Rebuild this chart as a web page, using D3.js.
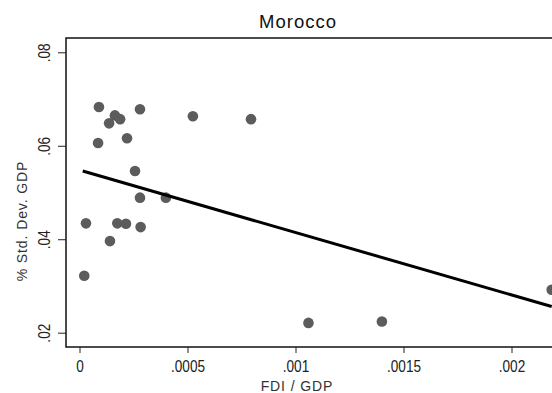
<!DOCTYPE html>
<html>
<head>
<meta charset="utf-8">
<script src="https://cdn.jsdelivr.net/npm/d3@7"></script>
<style>
  html, body { margin: 0; padding: 0; background: #fff; }
  svg { display: block; }
</style>
</head>
<body>
<div id="chart"></div>
<script>
// Data.
const fdiGdp = [0.000022, 0.00003, 0.00009, 0.000086, 0.000137, 0.000164, 0.000188, 0.00022,
    0.00028, 0.000257, 0.000141, 0.000175, 0.000215, 0.000283, 0.00028, 0.0004, 0.000525,
    0.000794, 0.00106, 0.0014, 0.002186];
const sdGdp = [0.0322, 0.0434, 0.0683, 0.0606, 0.0648, 0.0665, 0.0657, 0.0616,
    0.0678, 0.0546, 0.0396, 0.0434, 0.0433, 0.0426, 0.0489, 0.0489, 0.0663,
    0.0657, 0.0221, 0.0224, 0.0292];
// Fitted line end points.
const fitX = [0.000015, 0.002186];
const fitY = [0.0546, 0.0256];
const xTicks = [0, 0.0005, 0.001, 0.0015, 0.002];
const xTickLabels = ['0', '.0005', '.001', '.0015', '.002'];
const yTicks = [0.02, 0.04, 0.06, 0.08];
const yTickLabels = ['.02', '.04', '.06', '.08'];

const width = 552;
const height = 393;
const plot = {left: 66, top: 38, bottom: 347, right: 700};

const svg = d3.select('#chart')
    .append('svg')
        .attr('width', width)
        .attr('height', height);

const x = d3.scaleLinear()
    .domain([0, 0.002])
    .range([79.5, 511.5]);
const y = d3.scaleLinear()
    .domain([0.02, 0.08])
    .range([332.7, 52.3]);

const font = '"Liberation Sans", Arial, sans-serif';

// Plot region frame (right side runs off the picture).
svg.append('rect')
    .attr('x', plot.left)
    .attr('y', plot.top)
    .attr('width', plot.right - plot.left)
    .attr('height', plot.bottom - plot.top)
    .attr('fill', 'none')
    .attr('stroke', '#111')
    .attr('stroke-width', 1.5);

// X axis.
const xGroup = svg.append('g')
    .attr('transform', `translate(0,${plot.bottom})`)
    .call(d3.axisBottom(x)
        .tickValues(xTicks)
        .tickFormat((d, i) => xTickLabels[i])
        .tickSize(6)
        .tickPadding(7.6));
xGroup.select('.domain').remove();
xGroup.selectAll('line').attr('stroke', '#222');
xGroup.selectAll('text')
    .attr('transform', 'scale(0.85,1)')
    .style('font-family', font)
    .style('font-size', '16px')
    .attr('fill', '#222');

// Y axis.
const yGroup = svg.append('g')
    .attr('transform', `translate(${plot.left},0)`)
    .call(d3.axisLeft(y)
        .tickValues(yTicks)
        .tickFormat((d, i) => yTickLabels[i])
        .tickSize(8));
yGroup.select('.domain').remove();
yGroup.selectAll('line').attr('stroke', '#222');
yGroup.selectAll('text')
    .attr('transform', 'rotate(-90) scale(0.85,1)')
    .attr('x', 0)
    .attr('y', -16.5)
    .attr('dy', 0)
    .attr('text-anchor', 'middle')
    .style('font-family', font)
    .style('font-size', '16px')
    .attr('fill', '#222');

// Points.
svg.append('g')
    .selectAll('circle')
    .data(fdiGdp.map((d, i) => ({fdi: d, sd: sdGdp[i]})))
    .enter()
    .append('circle')
        .attr('cx', d => x(d.fdi))
        .attr('cy', d => y(d.sd))
        .attr('r', 5.3)
        .attr('fill', '#5c5c5c');

// Fitted line.
svg.append('path')
    .datum(fitX.map((d, i) => [d, fitY[i]]))
    .attr('d', d3.line().x(d => x(d[0])).y(d => y(d[1])))
    .attr('fill', 'none')
    .attr('stroke', '#000')
    .attr('stroke-width', 3);

// Titles.
svg.append('text')
    .attr('x', 298)
    .attr('y', 27.5)
    .attr('text-anchor', 'middle')
    .style('font-family', font)
    .style('font-size', '18.5px')
    .style('letter-spacing', '1px')
    .attr('fill', '#111')
    .text('Morocco');

svg.append('text')
    .attr('x', 297)
    .attr('y', 391)
    .attr('text-anchor', 'middle')
    .style('font-family', font)
    .style('font-size', '14px')
    .style('letter-spacing', '0.9px')
    .attr('fill', '#333')
    .text('FDI / GDP');

svg.append('text')
    .attr('transform', 'translate(27,221) rotate(-90)')
    .attr('text-anchor', 'middle')
    .style('font-family', font)
    .style('font-size', '14px')
    .style('letter-spacing', '0.9px')
    .attr('fill', '#333')
    .text('% Std. Dev. GDP');
</script>
</body>
</html>
